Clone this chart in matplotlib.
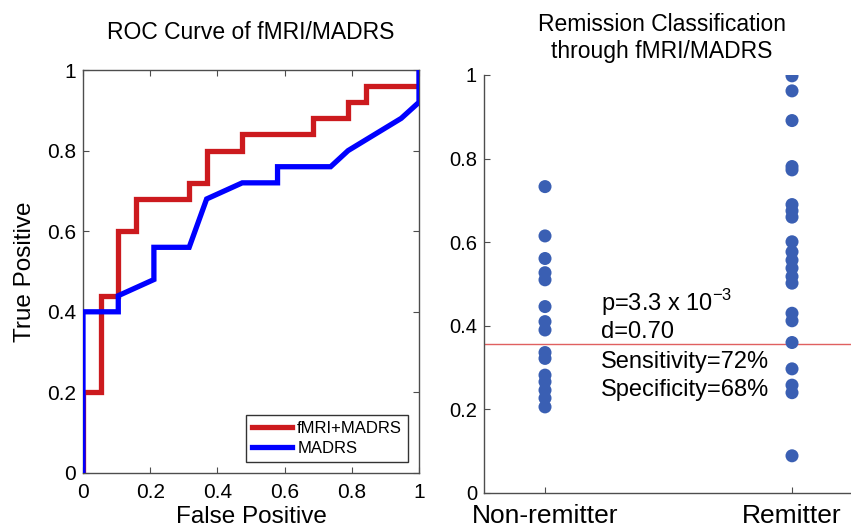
import matplotlib
matplotlib.use("Agg")
import matplotlib.pyplot as plt

plt.rcParams['font.family'] = ['Liberation Sans', 'DejaVu Sans']

# ---- ROC data ----
fpr_combined = [0, 0, 0.053, 0.053, 0.105, 0.105, 0.158, 0.158, 0.316, 0.316, 0.368, 0.368,
                0.474, 0.474, 0.684, 0.684, 0.789, 0.789, 0.842, 0.842, 1.0, 1.0]
tpr_combined = [0, 0.20, 0.20, 0.44, 0.44, 0.60, 0.60, 0.68, 0.68, 0.72, 0.72, 0.80,
                0.80, 0.84, 0.84, 0.88, 0.88, 0.92, 0.92, 0.96, 0.96, 1.0]
fpr_madrs = [0, 0, 0.105, 0.105, 0.211, 0.211, 0.316, 0.368, 0.474, 0.579, 0.579, 0.737,
             0.789, 0.947, 1.0, 1.0]
tpr_madrs = [0, 0.40, 0.40, 0.44, 0.48, 0.56, 0.56, 0.68, 0.72, 0.72, 0.76, 0.76,
             0.80, 0.88, 0.92, 1.0]

# ---- classification scores ----
groups = ['Non-remitter', 'Remitter']
nonremitter_scores = [0.733, 0.615, 0.561, 0.527, 0.510, 0.446, 0.410, 0.390, 0.336, 0.322,
                      0.282, 0.266, 0.246, 0.227, 0.206]
remitter_scores = [0.998, 0.962, 0.891, 0.781, 0.773, 0.690, 0.675, 0.660, 0.601, 0.577,
                   0.557, 0.538, 0.518, 0.502, 0.430, 0.412, 0.360, 0.297, 0.258, 0.240, 0.089]
threshold = 0.356
stats_lines = [r'p=3.3 x 10$^{\mathregular{-3}}$', 'd=0.70', 'Sensitivity=72%', 'Specificity=68%']

W, H = 851, 528
fig = plt.figure(figsize=(W / 100, H / 100), dpi=100)

def ax_rect(x0, y0, x1, y1):
    return [x0 / W, 1 - y1 / H, (x1 - x0) / W, (y1 - y0) / H]

spine_col = '#4d4d4d'

# ---- Left: ROC ----
ax1 = fig.add_axes(ax_rect(83, 70, 419, 473))
ax1.plot(fpr_combined, tpr_combined, color='#cc1a1e', lw=3.8, solid_joinstyle='miter',
         label='fMRI+MADRS', zorder=2)
ax1.plot(fpr_madrs, tpr_madrs, color='#0000ff', lw=3.8, solid_joinstyle='miter',
         label='MADRS', zorder=3)
ax1.set_xlim(0, 1)
ax1.set_ylim(0, 1)
ticks = [0, 0.2, 0.4, 0.6, 0.8, 1]
ax1.set_xticks(ticks)
ax1.set_yticks(ticks)
ax1.set_xticklabels(['0', '0.2', '0.4', '0.6', '0.8', '1'])
ax1.set_yticklabels(['0', '0.2', '0.4', '0.6', '0.8', '1'])
ax1.tick_params(direction='in', top=True, right=True, length=4, width=0.8,
                color=spine_col, labelsize=15)
ax1.tick_params(axis='x', pad=7)
ax1.tick_params(axis='y', pad=5)
for s in ax1.spines.values():
    s.set_color(spine_col)
    s.set_linewidth(1.0)
ax1.set_xlabel('False Positive', fontsize=17.5, labelpad=3)
ax1.set_ylabel('True Positive', fontsize=17.5, labelpad=8)
ax1.set_title('ROC Curve of fMRI/MADRS', fontsize=16.5, pad=22)
leg = ax1.legend(loc='lower right', bbox_to_anchor=(0.967, 0.027), borderaxespad=0,
                 fontsize=12, handlelength=2.4, handletextpad=0.3, borderpad=0.35,
                 labelspacing=0.3, fancybox=False, framealpha=1, edgecolor='#333333')
leg.get_frame().set_linewidth(1.0)

# ---- Right: scatter ----
ax2 = fig.add_axes(ax_rect(484, 75, 854.5, 493))
ax2.scatter([1] * len(nonremitter_scores), nonremitter_scores, s=88, color='#3a5fb3',
            edgecolors='none', zorder=3)
ax2.scatter([2] * len(remitter_scores), remitter_scores, s=88, color='#3a5fb3',
            edgecolors='none', zorder=3)
ax2.axhline(threshold, color='#e06060', lw=1.0, zorder=2)
ax2.set_xlim(0.753, 2.253)
ax2.set_ylim(0, 1)
ax2.set_xticks([1, 2])
ax2.set_xticklabels(groups, fontsize=19)
ax2.set_yticks(ticks)
ax2.set_yticklabels(['0', '0.2', '0.4', '0.6', '0.8', '1'])
ax2.tick_params(axis='y', direction='in', length=4, width=0.8, color=spine_col,
                labelsize=14.5, pad=5)
ax2.tick_params(axis='x', direction='in', length=4, width=0.8, color=spine_col, pad=8)
ax2.spines['top'].set_visible(False)
ax2.spines['right'].set_visible(False)
for s in ('left', 'bottom'):
    ax2.spines[s].set_color(spine_col)
    ax2.spines[s].set_linewidth(1.0)
ax2.set_title('Remission Classification\nthrough fMRI/MADRS', fontsize=16.5, pad=12,
              linespacing=1.25, x=0.48)

text_y = [0.455, 0.385, 0.313, 0.246]
for line, yy in zip(stats_lines, text_y):
    ax2.text(1.226, yy, line, fontsize=17, va='center', ha='left')

fig.savefig('out.png', dpi=100)
